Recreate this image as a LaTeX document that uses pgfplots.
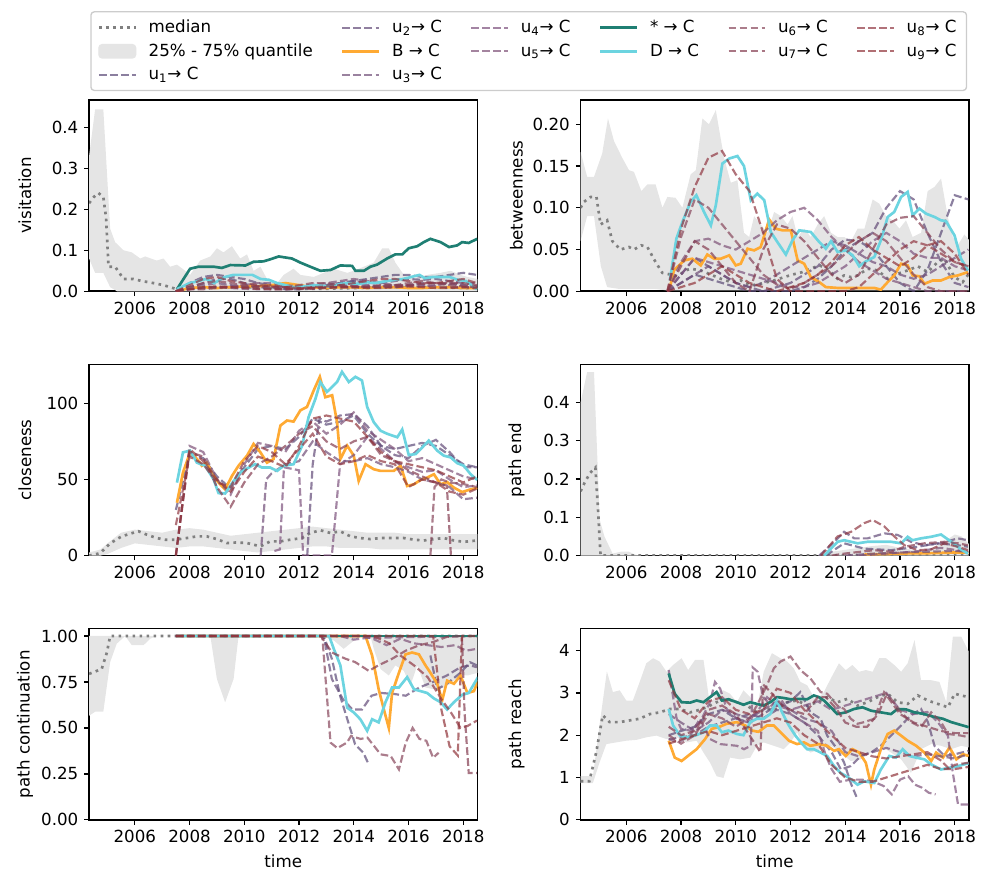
\documentclass[border=0pt]{standalone}
\usepackage{fontspec}
\setmainfont{DejaVu Sans}
\usepackage{pgfplots}
\usepackage{pgfplotstable}
\pgfplotsset{compat=1.18}
\usepgfplotslibrary{groupplots,fillbetween}

\definecolor{teal1}{HTML}{1F7F73}
\definecolor{cyan1}{HTML}{6CD4E0}
\definecolor{orng}{HTML}{FFAA33}
\definecolor{medg}{HTML}{808080}
\definecolor{qfill}{HTML}{E5E5E5}
\definecolor{legframe}{HTML}{CCCCCC}
\definecolor{ua}{RGB}{91,74,119}
\definecolor{ub}{RGB}{98,74,119}
\definecolor{uc}{RGB}{112,77,119}
\definecolor{ud}{RGB}{124,81,124}
\definecolor{ue}{RGB}{126,81,119}
\definecolor{uf}{RGB}{136,70,91}
\definecolor{ug}{RGB}{133,60,80}
\definecolor{uh}{RGB}{144,55,66}
\definecolor{ui}{RGB}{144,51,57}

\pgfplotsset{
  med/.style={draw=medg, line width=1.6pt, dash pattern=on 1.6pt off 2.6pt},
  uu/.style={draw=#1, line width=1.3pt, dash pattern=on 4.6pt off 2pt, draw opacity=0.7},
  bb/.style={draw=orng, line width=1.6pt},
  st/.style={draw=teal1, line width=1.6pt},
  dd/.style={draw=cyan1, line width=1.6pt},
}

% u series on a half-year grid
\pgfplotstableread{
t u1 u2 u3 u4 u5 u6 u7 u8 u9
2007.5 0 0 0 0 0 0 0 0 0
2008 .01 .02 .01 .005 .005 .01 .005 .015 .005
2008.5 .02 .035 .015 .01 .008 .02 .005 .03 .01
2009 .03 .04 .02 .01 .01 .025 .008 .035 .012
2009.5 .03 .035 .015 .008 .012 .02 .01 .025 .01
2010 .02 .03 .01 .006 .015 .015 .01 .02 .008
2010.5 .01 .02 .01 .005 .02 .012 .012 .015 .006
2011 .01 .015 .008 .005 .02 .01 .015 .012 .005
2011.5 .005 .01 .005 .005 .015 .01 .01 .01 .005
2012 .005 .01 .005 .008 .012 .015 .008 .008 .006
2012.5 .01 .012 .008 .01 .015 .02 .006 .01 .008
2013 .015 .015 .01 .01 .02 .02 .008 .012 .01
2013.5 .02 .02 .012 .01 .025 .015 .01 .015 .01
2014 .025 .025 .015 .012 .03 .012 .01 .02 .01
2014.5 .03 .02 .015 .01 .025 .01 .012 .025 .008
2015 .035 .02 .012 .01 .02 .012 .015 .03 .008
2015.5 .04 .025 .01 .012 .015 .015 .015 .03 .01
2016 .04 .03 .015 .015 .012 .02 .015 .025 .012
2016.5 .035 .028 .02 .015 .012 .025 .018 .02 .01
2017 .035 .03 .02 .012 .015 .02 .02 .02 .008
2017.5 .04 .025 .018 .01 .02 .015 .02 .025 .008
2018 .045 .02 .015 .01 .015 .012 .02 .03 .01
2018.5 .04 .02 .01 .01 .012 .01 .015 .02 .008
}\visit

\pgfplotstableread{
t u1 u2 u3 u4 u5 u6 u7 u8 u9
2007.5 0 0 0 0 0 0 0 0 0
2008 .01 .02 .01 .02 .035 .065 .03 .075 .005
2008.5 .02 .04 .02 .04 .06 .11 .06 .125 .01
2009 .015 .03 .03 .035 .063 .1 .05 .16 .02
2009.5 .01 .02 .02 .03 .055 .08 .03 .168 .03
2010 .005 .01 .01 .025 .05 .06 .01 .14 .02
2010.5 0 .005 .005 .02 .06 .04 0 .12 .01
2011 0 0 .01 .015 .07 .02 .05 .07 .005
2011.5 0 .005 .02 .01 .085 .008 .08 .015 0
2012 0 .01 .03 .005 .095 .003 .075 0 .005
2012.5 .005 .02 .04 .005 .1 .01 .06 0 .01
2013 .015 .03 .05 .01 .085 .02 .04 0 .02
2013.5 .03 .05 .06 .02 .065 .03 .02 0 .035
2014 .05 .062 .055 .03 .05 .045 .01 0 .055
2014.5 .06 .06 .045 .045 .035 .06 .02 .005 .065
2015 .05 .07 .035 .06 .025 .07 .05 .02 .05
2015.5 .03 .1 .03 .07 .015 .06 .08 .035 .04
2016 .01 .12 .02 .06 .01 .04 .088 .05 .03
2016.5 0 .11 .015 .045 .005 .02 .09 .06 .04
2017 .025 .07 .02 .04 0 .005 .07 .055 .055
2017.5 .07 .035 .03 .04 0 0 .05 .045 .06
2018 .115 .01 .04 .03 0 0 .035 .035 .045
2018.5 .11 .005 .05 .025 0 0 .03 .03 .02
}\betw

\begin{document}
\begin{tikzpicture}
\begin{groupplot}[
  group style={group size=2 by 3, horizontal sep=61.8pt, vertical sep=43.8pt},
  scale only axis, width=232.8pt, height=114.6pt,
  xmin=2004.33, xmax=2018.52, ymin=0,
  xtick={2006,2008,2010,2012,2014,2016,2018},
  x tick label style={/pgf/number format/1000 sep={}},
  /pgf/number format/assume math mode=true,
  tick align=outside, tick pos=left, major tick length=2.9pt,
  every tick/.style={black, line width=0.8pt},
  axis line style={line width=1pt},
  tick label style={font=\fontsize{10}{12}\selectfont},
  label style={font=\fontsize{10}{12}\selectfont},
  every axis y label/.style={at={(axis description cs:-0.165,0.5)}, rotate=90, anchor=center},
  unbounded coords=jump,
  legend image code/.code={\draw[#1] (0pt,0pt) -- (22pt,0pt);},
]

% ---------------- visitation
\nextgroupplot[ymax=0.4667, ytick={0,0.1,0.2,0.3,0.4},
  yticklabel style={/pgf/number format/.cd,fixed,fixed zerofill,precision=1},
  ylabel={visitation},
  legend columns=6, legend cell align=left,
  legend style={at={(axis description cs:0.003,1.047)}, anchor=south west,
    draw=legframe, rounded corners=2pt, line width=0.8pt,
    font=\fontsize{10}{12}\selectfont, inner xsep=4pt, inner ysep=3pt,
    row sep=1pt,
    /tikz/every odd column/.append style={column sep=5pt},
    /tikz/every even column/.append style={column sep=15pt}}]
\addlegendimage{med}
\addlegendimage{uu=ub}
\addlegendimage{uu=ud}
\addlegendimage{st}
\addlegendimage{uu=uf}
\addlegendimage{uu=uh}
\addlegendimage{legend image code/.code={\fill[qfill] (0pt,-4pt) rectangle (22pt,4pt);}}
\addlegendimage{bb}
\addlegendimage{uu=ue}
\addlegendimage{dd}
\addlegendimage{uu=ug}
\addlegendimage{uu=ui}
\addlegendimage{uu=ua}
\addlegendimage{uu=uc}
\addplot[name path=vu, draw=none] coordinates {(2004.33,0.33)(2004.55,0.444)(2004.85,0.444)(2005.1,0.153)(2005.28,0.12)(2005.59,0.10)(2005.89,0.095)(2006.2,0.08)(2006.38,0.085)(2006.8,0.075)(2007.05,0.08)(2007.29,0.06)(2007.54,0.065)(2007.84,0.05)(2008.02,0.04)(2008.39,0.075)(2008.76,0.085)(2009.0,0.105)(2009.24,0.095)(2009.55,0.11)(2009.85,0.08)(2010.1,0.09)(2010.34,0.05)(2010.59,0.06)(2010.83,0.03)(2011.2,0.02)(2011.44,0.04)(2011.8,0.055)(2012.05,0.04)(2012.54,0.035)(2012.9,0.045)(2013.27,0.055)(2013.76,0.045)(2014.0,0.05)(2014.37,0.06)(2014.73,0.07)(2015.04,0.105)(2015.28,0.105)(2015.52,0.07)(2015.83,0.04)(2016.2,0.03)(2016.68,0.04)(2017.17,0.045)(2017.54,0.05)(2017.9,0.04)(2018.15,0.035)(2018.54,0.03)};
\addplot[name path=vl, draw=none] coordinates {(2004.33,0.08)(2004.55,0.045)(2004.85,0.045)(2005.1,0.01)(2005.35,0)(2018.54,0)};
\addplot[qfill] fill between[of=vu and vl];
\addplot[med] coordinates {(2004.33,0.215)(2004.5,0.23)(2004.67,0.24)(2004.85,0.23)(2004.95,0.18)(2005.04,0.06)(2005.28,0.06)(2005.59,0.03)(2005.95,0.03)(2006.26,0.025)(2006.68,0.02)(2007.05,0.015)(2007.29,0.01)(2007.54,0.005)(2008,0.008)(2009,0.01)(2010,0.01)(2011,0.008)(2012,0.006)(2013,0.006)(2014,0.008)(2015,0.01)(2016,0.01)(2017,0.01)(2018,0.008)(2018.5,0.008)};
\addplot[uu=ua] table[x=t,y=u1] {\visit};
\addplot[uu=ub] table[x=t,y=u2] {\visit};
\addplot[bb] coordinates {(2007.54,0.0)(2008,0.008)(2008.5,0.01)(2009,0.008)(2009.5,0.01)(2010,0.012)(2010.5,0.012)(2011,0.015)(2011.5,0.02)(2012,0.015)(2012.5,0.01)(2013,0.008)(2013.5,0.01)(2014,0.01)(2014.5,0.008)(2015,0.01)(2015.5,0.01)(2016,0.008)(2016.5,0.008)(2017,0.01)(2017.5,0.01)(2018,0.008)(2018.5,0.008)};
\addplot[uu=uc] table[x=t,y=u3] {\visit};
\addplot[uu=ud] table[x=t,y=u4] {\visit};
\addplot[uu=ue] table[x=t,y=u5] {\visit};
\addplot[st] coordinates {(2007.54,0.005)(2008.02,0.055)(2008.33,0.06)(2008.88,0.06)(2009.18,0.057)(2009.49,0.064)(2010.04,0.063)(2010.34,0.072)(2010.7,0.073)(2010.95,0.078)(2011.26,0.085)(2011.74,0.08)(2012.05,0.07)(2012.41,0.06)(2012.78,0.05)(2013.15,0.052)(2013.51,0.063)(2013.94,0.062)(2014.06,0.05)(2014.37,0.05)(2014.61,0.06)(2014.85,0.065)(2015.22,0.08)(2015.52,0.09)(2015.77,0.09)(2016.01,0.105)(2016.32,0.11)(2016.56,0.12)(2016.8,0.128)(2017.17,0.12)(2017.48,0.108)(2017.78,0.112)(2017.96,0.12)(2018.2,0.118)(2018.51,0.128)};
\addplot[dd] coordinates {(2007.54,0.005)(2008.0,0.02)(2008.33,0.025)(2008.6,0.03)(2008.9,0.02)(2009.3,0.035)(2009.6,0.04)(2010.0,0.04)(2010.3,0.04)(2010.6,0.03)(2010.9,0.028)(2011.2,0.02)(2011.5,0.015)(2011.8,0.01)(2012.2,0.012)(2012.5,0.015)(2012.9,0.013)(2013.2,0.012)(2013.5,0.018)(2013.8,0.02)(2014.2,0.018)(2014.5,0.022)(2014.8,0.02)(2015.2,0.025)(2015.5,0.028)(2015.8,0.03)(2016.1,0.035)(2016.4,0.04)(2016.6,0.032)(2016.9,0.035)(2017.2,0.035)(2017.5,0.035)(2017.8,0.028)(2018.1,0.025)(2018.3,0.015)(2018.5,0.005)};
\addplot[uu=uf] table[x=t,y=u6] {\visit};
\addplot[uu=ug] table[x=t,y=u7] {\visit};
\addplot[uu=uh] table[x=t,y=u8] {\visit};
\addplot[uu=ui] table[x=t,y=u9] {\visit};
\legend{median, u\textsubscript{2}→ C, u\textsubscript{4}→ C, * → C, u\textsubscript{6}→ C, u\textsubscript{8}→ C,
  25\% - 75\% quantile, B → C, u\textsubscript{5}→ C, D → C, u\textsubscript{7}→ C, u\textsubscript{9}→ C,
  u\textsubscript{1}→ C, u\textsubscript{3}→ C}

% ---------------- betweenness
\nextgroupplot[ymax=0.229, ytick={0,0.05,0.1,0.15,0.2},
  yticklabel style={/pgf/number format/.cd,fixed,fixed zerofill,precision=2},
  ylabel={betweenness}]
\addplot[name path=bu, draw=none] coordinates {(2004.33,.167)(2004.57,.137)(2004.82,.137)(2005.12,.165)(2005.33,.207)(2005.55,.18)(2005.85,.16)(2006.1,.145)(2006.28,.143)(2006.55,.12)(2006.77,.128)(2007.07,.128)(2007.32,.10)(2007.5,.113)(2007.8,.112)(2008.05,.10)(2008.35,.14)(2008.54,.145)(2008.78,.207)(2009.02,.20)(2009.27,.217)(2009.57,.16)(2009.82,.13)(2010.06,.133)(2010.3,.07)(2010.49,.065)(2010.67,.09)(2010.91,.08)(2011.16,.07)(2011.4,.095)(2011.65,.09)(2011.89,.08)(2012.07,.09)(2012.26,.065)(2012.5,.075)(2012.74,.065)(2012.99,.08)(2013.23,.09)(2013.48,.07)(2013.72,.065)(2013.96,.065)(2014.21,.06)(2014.45,.075)(2014.7,.075)(2015.0,.11)(2015.24,.105)(2015.49,.09)(2015.73,.085)(2015.98,.075)(2016.22,.085)(2016.46,.065)(2016.77,.07)(2017.01,.12)(2017.26,.125)(2017.5,.135)(2017.74,.09)(2017.93,.065)(2018.11,.055)(2018.35,.068)(2018.56,.06)};
\addplot[name path=bl, draw=none] coordinates {(2004.33,.06)(2004.57,.09)(2004.82,.09)(2005.07,.03)(2005.3,.005)(2005.7,.003)(2007,.003)(2007.5,.001)(2018.56,.001)};
\addplot[qfill] fill between[of=bu and bl];
\addplot[med] coordinates {(2004.33,.1)(2004.45,.107)(2004.7,.113)(2004.91,.113)(2005.06,.08)(2005.3,.085)(2005.49,.06)(2005.79,.05)(2006.1,.053)(2006.28,.05)(2006.55,.055)(2006.77,.053)(2007.07,.035)(2007.32,.022)(2007.62,.02)(2007.87,.018)(2008.17,.025)(2008.35,.027)(2008.72,.025)(2009.09,.02)(2009.45,.015)(2009.82,.011)(2010.18,.013)(2010.55,.007)(2010.91,.009)(2011.4,.013)(2011.77,.017)(2012.07,.02)(2012.44,.023)(2012.74,.027)(2013.05,.031)(2013.35,.027)(2013.72,.015)(2013.96,.019)(2014.21,.017)(2014.45,.019)(2014.82,.027)(2015.18,.025)(2015.55,.015)(2015.91,.021)(2016.28,.025)(2016.65,.03)(2017.01,.023)(2017.38,.035)(2017.62,.039)(2017.99,.017)(2018.29,.011)(2018.56,.023)};
\addplot[uu=ua] table[x=t,y=u1] {\betw};
\addplot[uu=ub] table[x=t,y=u2] {\betw};
\addplot[bb] coordinates {(2007.59,.004)(2007.74,.025)(2008.11,.037)(2008.41,.039)(2008.72,.031)(2008.96,.044)(2009.21,.039)(2009.45,.039)(2009.76,.043)(2010.0,.031)(2010.18,.033)(2010.43,.051)(2010.67,.049)(2010.91,.053)(2011.22,.086)(2011.46,.075)(2011.71,.073)(2012.01,.073)(2012.26,.037)(2012.5,.033)(2012.74,.017)(2013.05,.011)(2013.29,.005)(2013.72,.004)(2014.21,.004)(2014.7,.004)(2015.06,.004)(2015.3,.002)(2015.55,.011)(2015.79,.019)(2016.04,.033)(2016.28,.031)(2016.46,.019)(2016.71,.018)(2016.89,.009)(2017.2,.013)(2017.5,.013)(2017.8,.017)(2018.11,.019)(2018.48,.023)};
\addplot[uu=uc] table[x=t,y=u3] {\betw};
\addplot[uu=ud] table[x=t,y=u4] {\betw};
\addplot[uu=ue] table[x=t,y=u5] {\betw};
\addplot[dd] coordinates {(2007.59,.013)(2007.83,.063)(2008.05,.083)(2008.35,.107)(2008.56,.115)(2008.84,.095)(2009.09,.079)(2009.27,.103)(2009.51,.153)(2009.76,.159)(2010.06,.162)(2010.3,.15)(2010.55,.109)(2010.79,.117)(2011.04,.109)(2011.28,.071)(2011.52,.059)(2011.83,.044)(2012.07,.061)(2012.32,.073)(2012.74,.071)(2013.05,.059)(2013.29,.051)(2013.48,.06)(2013.72,.047)(2014.02,.049)(2014.27,.043)(2014.51,.03)(2014.76,.036)(2015.06,.041)(2015.30,.061)(2015.55,.089)(2015.79,.095)(2016.04,.113)(2016.28,.119)(2016.46,.091)(2016.71,.099)(2016.95,.093)(2017.26,.089)(2017.5,.085)(2017.68,.084)(2017.99,.067)(2018.23,.039)(2018.48,.025)};
\addplot[uu=uf] table[x=t,y=u6] {\betw};
\addplot[uu=ug] table[x=t,y=u7] {\betw};
\addplot[uu=uh] table[x=t,y=u8] {\betw};
\addplot[uu=ui] table[x=t,y=u9] {\betw};

% ---------------- closeness
\nextgroupplot[ymax=125.6, ytick={0,50,100}, ylabel={closeness}]
\addplot[name path=cu, draw=none] coordinates {(2004.33,2)(2004.75,4)(2005.0,8)(2005.5,15)(2006,17)(2006.5,16)(2007,15)(2007.5,17)(2008,18)(2008.5,17)(2009,15)(2009.5,13)(2010,14)(2010.5,15)(2011,16)(2011.5,17)(2012,18)(2012.5,19)(2013,18)(2013.5,17)(2014,16)(2014.5,15)(2015,15)(2015.5,15)(2016,14)(2016.5,14)(2017,14)(2017.5,14)(2018,14)(2018.52,14)};
\addplot[name path=cl, draw=none] coordinates {(2004.33,0)(2004.75,0)(2005,1)(2005.5,5)(2006,8)(2006.5,7)(2007,6)(2007.5,5)(2008,6)(2008.5,6)(2009,5)(2009.5,4)(2010,3)(2010.5,2)(2011,3)(2011.5,4)(2012,5)(2012.5,6)(2013,6)(2013.5,5)(2014,5)(2014.5,5)(2015,4)(2015.5,4)(2016,4)(2016.5,4)(2017,4)(2017.5,4)(2018,4)(2018.52,4)};
\addplot[qfill] fill between[of=cu and cl];
\addplot[med] coordinates {(2004.33,0)(2004.73,1.5)(2005.1,8)(2005.52,12.6)(2005.77,14)(2006.13,16)(2006.44,13.7)(2006.8,11.5)(2007.11,10.4)(2007.48,10.4)(2007.9,11.5)(2008.27,12.6)(2008.63,12.6)(2009.0,10.8)(2009.37,8.2)(2009.73,8.6)(2010.1,8.2)(2010.59,6)(2010.95,9.3)(2011.32,9.3)(2011.68,10.4)(2012.11,11.5)(2012.41,14.8)(2012.78,16.6)(2013.15,14.8)(2013.51,15.9)(2013.88,12.6)(2014.24,11.5)(2014.61,10.8)(2014.98,11.5)(2015.46,11.5)(2015.83,11.5)(2016.2,10.4)(2016.56,9.9)(2016.93,10.8)(2017.29,11.5)(2017.66,9.9)(2018.02,9)(2018.51,9.9)};
\addplot[uu=ua] coordinates {(2007.5,30)(2008,66)(2008.5,64)(2009,52)(2009.5,44)(2010,58)(2010.5,70)(2011,72)(2011.5,70)(2012,78)(2012.5,90)(2013,86)(2013.5,88)(2014,92)(2014.5,80)(2015,72)(2015.5,70)(2016,72)(2016.5,74)(2017,72)(2017.5,66)(2018,60)(2018.5,58)};
\addplot[uu=ub] coordinates {(2012.3,0)(2012.5,60)(2012.75,90)(2013,88)(2013.5,92)(2014,93)(2014.5,85)(2015,72)(2015.5,66)(2016,64)(2016.5,72)(2017,76)(2017.5,68)(2018,58)(2018.5,58)};
\addplot[bb] coordinates {(2007.54,34.7)(2007.76,54.5)(2008.02,67.8)(2008.27,63.4)(2008.45,59)(2008.63,61)(2008.88,52.3)(2009.06,47.9)(2009.3,43.5)(2009.55,52.3)(2009.79,59)(2010.1,65.6)(2010.34,73.3)(2010.59,67.8)(2010.83,61)(2011.07,63.4)(2011.32,85.4)(2011.56,88.7)(2011.8,88)(2012.05,95.4)(2012.29,97.6)(2012.54,108.6)(2012.76,117.4)(2012.96,104)(2013.21,105.3)(2013.39,87.6)(2013.51,63.4)(2013.76,72.2)(2014.0,65.6)(2014.18,49)(2014.43,60)(2014.73,56.7)(2014.98,55.6)(2015.22,55.6)(2015.46,55.6)(2015.71,59)(2015.95,45.7)(2016.2,46.8)(2016.44,49.7)(2016.68,51.2)(2016.93,53.4)(2017.17,46.8)(2017.41,48.3)(2017.66,44.6)(2017.96,41.7)(2018.27,43.5)(2018.51,44.4)};
\addplot[uu=uc] coordinates {(2010.6,0)(2010.8,50)(2011,54)(2011.5,60)(2012,62)(2012.5,75)(2013,68)(2013.5,62)(2014,62)(2014.5,64)(2015,60)(2015.5,58)(2016,55)(2016.5,50)(2017,48)(2017.5,45)(2018,37)(2018.5,38)};
\addplot[uu=ud] coordinates {(2011.1,3)(2011.3,4)(2011.45,58)(2012,56)(2012.15,0)(2013.2,0)(2013.5,60)(2014,66)(2014.5,78)(2015,70)(2015.5,62)(2016,58)(2016.5,55)(2017,56)(2017.5,50)(2018,45)(2018.5,46)};
\addplot[uu=ue] coordinates {(2007.5,0)(2008,72)(2008.5,68)(2009,50)(2009.5,40)(2010,60)(2010.5,74)(2011,72)(2011.5,68)(2012,82)(2012.5,88)(2013,80)(2013.5,86)(2014,94)(2014.5,82)(2015,76)(2015.5,70)(2016,62)(2016.5,64)(2017,60)(2017.5,56)(2018,52)(2018.5,50)};
\addplot[dd] coordinates {(2007.54,47.9)(2007.76,67.8)(2008.02,68.9)(2008.27,61)(2008.57,59)(2008.88,50)(2009.06,41)(2009.3,40.8)(2009.61,49)(2009.85,54.5)(2010.16,57.8)(2010.4,60)(2010.65,57.8)(2010.95,57.8)(2011.2,55.6)(2011.44,59)(2011.8,60)(2012.11,72)(2012.35,91)(2012.6,103)(2012.78,114)(2013.02,107.5)(2013.39,114)(2013.57,120.7)(2013.82,114)(2014.06,117.4)(2014.3,115)(2014.49,97.6)(2014.73,87.6)(2014.98,82)(2015.22,80)(2015.59,77.7)(2015.77,82.8)(2016.01,66)(2016.26,66.7)(2016.5,71)(2016.74,75.5)(2017.05,68.9)(2017.29,65.6)(2017.54,64.5)(2017.78,60.7)(2018.02,59)(2018.27,53.4)(2018.51,49.7)};
\addplot[uu=uf] coordinates {(2016.8,0)(2016.95,45)(2017.2,50)(2017.5,48)(2018,47)(2018.5,45)};
\addplot[uu=ug] coordinates {(2007.5,0)(2008,68)(2008.5,65)(2009,45)(2009.5,32)(2010,48)(2010.5,60)(2011,65)(2011.5,72)(2012,80)(2012.5,85)(2013,75)(2013.5,70)(2014,75)(2014.5,78)(2015,66)(2015.5,62)(2016,56)(2016.5,52)(2017,48)(2017.4,46)(2017.55,0)(2017.65,0)};
\addplot[uu=uh] coordinates {(2007.5,20)(2008,65)(2008.5,60)(2009,48)(2009.5,45)(2010,62)(2010.5,72)(2011,68)(2011.5,60)(2012,70)(2012.5,80)(2013,65)(2013.5,60)(2014,62)(2014.5,66)(2015,62)(2015.5,60)(2016,45)(2016.5,50)(2017,48)(2017.5,42)(2018,40)(2018.5,44)};
\addplot[uu=ui] coordinates {(2007.5,0)(2008,70)(2008.5,62)(2009,50)(2009.5,42)(2010,55)(2010.5,65)(2011,62)(2011.5,58)(2012,72)(2012.5,90)(2013,92)(2013.5,90)(2014,88)(2014.5,78)(2015,68)(2015.5,62)(2016,60)(2016.5,58)(2017,56)(2017.5,52)(2018,48)(2018.5,52)};

% ---------------- path end
\nextgroupplot[ymax=0.5, ytick={0,0.1,0.2,0.3,0.4},
  yticklabel style={/pgf/number format/.cd,fixed,fixed zerofill,precision=1},
  ylabel={path end}]
\addplot[name path=eu, draw=none] coordinates {(2004.33,0.40)(2004.57,0.48)(2004.82,0.48)(2005.03,0.093)(2005.2,0.05)(2005.5,0.005)(2005.8,0.01)(2006.1,0.01)(2006.3,0.003)(2006.5,0)(2013.0,0)(2013.5,0.01)(2014,0.015)(2014.5,0.02)(2015,0.025)(2015.5,0.028)(2016,0.02)(2016.5,0.015)(2017,0.015)(2017.5,0.03)(2018,0.055)(2018.25,0.05)(2018.52,0.03)};
\addplot[name path=el, draw=none] coordinates {(2004.33,0)(2018.52,0)};
\addplot[qfill] fill between[of=eu and el];
\addplot[med] coordinates {(2004.33,.168)(2004.5,.194)(2004.68,.216)(2004.87,.23)(2004.96,.13)(2005.06,0)(2018.52,0)};
\addplot[uu=ua] coordinates {(2013.3,0)(2013.6,.015)(2013.96,.032)(2014.7,.018)(2015.67,.014)(2016.65,.023)(2017.38,.032)(2018.11,.027)(2018.48,.023)};
\addplot[uu=ub] coordinates {(2013.05,0)(2013.6,.036)(2013.96,.062)(2014.33,.045)(2014.82,.045)(2015.43,.058)(2015.91,.054)(2016.4,.036)(2016.89,.027)(2017.5,.032)(2018.11,.045)(2018.48,.04)};
\addplot[bb] coordinates {(2014.7,0.003)(2015.5,0.004)(2016,0.005)(2016.5,0.006)(2017,0.006)(2017.5,0.007)(2018,0.008)(2018.5,0.008)};
\addplot[uu=uc] coordinates {(2014,0)(2015,.005)(2016,.008)(2017,.01)(2018,.012)(2018.5,.01)};
\addplot[uu=ue] coordinates {(2014.5,0)(2015.5,.005)(2016.5,.01)(2017.5,.02)(2018.5,.01)};
\addplot[dd] coordinates {(2013.23,0)(2013.72,.036)(2013.96,.04)(2014.21,.036)(2014.45,.032)(2014.82,.036)(2015.18,.036)(2015.67,.036)(2016.04,.032)(2016.28,.049)(2016.46,.04)(2016.77,.045)(2017.13,.049)(2017.5,.055)(2017.87,.036)(2018.23,.016)(2018.48,.005)};
\addplot[uu=ug] coordinates {(2013.5,0)(2013.96,.005)(2015.06,.014)(2015.67,.01)(2016.16,.023)(2016.89,.032)(2017.62,.036)(2018.11,.032)(2018.48,.027)};
\addplot[uu=uh] coordinates {(2013.11,0)(2013.72,.05)(2014.21,.062)(2014.7,.085)(2015.0,.093)(2015.43,.076)(2015.79,.05)(2016.16,.027)(2016.65,.014)(2017.13,.016)(2017.62,.032)(2018.11,.023)(2018.48,.014)};

% ---------------- path continuation
\nextgroupplot[ymax=1.04, ytick={0,0.25,0.5,0.75,1},
  yticklabel style={/pgf/number format/.cd,fixed,fixed zerofill,precision=2},
  ylabel={path continuation}, xlabel={time}]
\addplot[name path=pu, draw=none] coordinates {(2004.33,1)(2018.54,1)};
\addplot[name path=pl, draw=none] coordinates {(2004.33,.566)(2004.55,.588)(2004.85,.588)(2005.1,.858)(2005.34,.958)(2005.65,1.0)(2005.89,.95)(2006.32,.95)(2006.56,.985)(2006.8,1)(2008.76,1)(2009.0,.766)(2009.3,.639)(2009.61,.766)(2009.79,1)(2012.84,1)(2013.27,.976)(2013.63,.93)(2013.94,.967)(2014.24,1)(2014.61,1)(2014.73,.93)(2014.98,.82)(2015.28,.785)(2015.52,.84)(2015.83,.81)(2016.07,.73)(2016.32,.84)(2016.62,.72)(2016.93,.71)(2017.29,.72)(2017.54,.74)(2017.9,.79)(2018.15,.785)(2018.54,.80)};
\addplot[qfill] fill between[of=pu and pl];
\addplot[med] coordinates {(2004.33,.794)(2004.61,.81)(2004.79,.82)(2004.98,.91)(2005.1,1.0)(2018.54,1.0)};
\addplot[uu=ua] coordinates {(2007.5,1)(2012.9,1)(2013.2,0.876)(2013.5,0.675)(2013.8,0.53)(2014.05,0.41)(2014.35,0.365)(2014.55,0.30)(2014.6,nan)(2016.8,0.894)(2017.05,0.71)(2017.4,0.74)(2017.9,0.80)(2018.25,0.857)(2018.5,0.84)};
\addplot[uu=ub] coordinates {(2007.5,1)(2012.9,1)(2013.2,0.766)(2013.6,0.657)(2013.95,0.60)(2014.3,0.60)(2014.65,0.675)(2015,0.69)(2015.5,0.684)(2015.9,0.675)(2016.4,0.72)(2016.9,0.75)(2017.4,0.785)(2017.9,0.83)(2018.25,0.84)(2018.5,0.83)};
\addplot[bb] coordinates {(2007.54,1)(2014.43,1)(2014.67,.894)(2014.91,.71)(2015.1,.60)(2015.28,.50)(2015.4,.69)(2015.65,.80)(2015.89,.90)(2016.13,.91)(2016.38,.90)(2016.62,.84)(2016.8,.80)(2017.05,.74)(2017.23,.65)(2017.41,.757)(2017.66,.74)(2017.9,.785)(2018.15,.69)(2018.39,.70)(2018.54,.757)};
\addplot[uu=uc] coordinates {(2007.5,1)(2018.5,1)};
\addplot[uu=ud] coordinates {(2007.5,1)(2013.5,1)(2014,0.98)(2014.5,0.99)(2018.5,1)};
\addplot[uu=ue] coordinates {(2007.5,1)(2014.3,1)(2014.7,0.985)(2015.2,0.95)(2015.7,0.985)(2016.2,0.96)(2016.7,0.95)(2017.2,0.94)(2017.7,0.95)(2018.1,0.92)(2018.5,0.93)};
\addplot[st] coordinates {(2007.54,1)(2018.54,1)};
\addplot[dd] coordinates {(2007.54,1)(2013.1,1)(2013.27,.93)(2013.51,.84)(2013.76,.61)(2014.0,.584)(2014.24,.547)(2014.49,.484)(2014.67,.547)(2014.91,.53)(2015.16,.64)(2015.4,.72)(2015.65,.72)(2015.95,.776)(2016.2,.71)(2016.44,.70)(2016.68,.69)(2016.93,.66)(2017.17,.64)(2017.41,.60)(2017.66,.64)(2017.96,.68)(2018.2,.69)(2018.54,.776)};
\addplot[uu=uf] coordinates {(2007.5,1)(2012.85,1)(2013.15,0.42)(2013.4,0.39)(2013.75,0.42)(2013.9,0.456)(2014.25,0.44)(2014.5,0.447)(2014.75,0.40)(2014.98,0.356)(2015.35,0.347)(2015.65,0.274)(2015.9,0.42)(2016.15,0.50)(2016.4,0.44)(2016.65,0.43)(2016.9,0.337)(2017.1,0.365)};
\addplot[uu=ug] coordinates {(2007.5,1)(2012.8,1)(2013.2,0.91)(2013.7,0.876)(2014.05,0.858)(2014.55,0.81)(2014.9,0.84)(2015.4,0.876)(2015.9,0.92)(2016.4,0.95)(2016.9,0.967)(2017.4,0.995)(2017.95,1.0)(2018.05,0.58)(2018.2,0.255)(2018.5,0.255)};
\addplot[uu=uh] coordinates {(2007.5,1)(2014.7,1)(2015.3,0.96)(2015.7,0.894)(2016.2,0.84)(2016.7,0.776)(2017.2,0.657)(2017.55,0.584)(2017.9,0.50)(2018.15,0.51)(2018.5,0.54)};
\addplot[uu=ui] coordinates {(2007.5,1)(2016.9,1)(2017.2,0.6)(2017.5,0.4)(2017.8,0.35)(2017.95,1.0)(2018.5,1.0)};

% ---------------- path reach
\nextgroupplot[ymax=4.52, ytick={0,1,2,3,4}, ylabel={path reach}, xlabel={time}]
\addplot[name path=ru, draw=none] coordinates {(2004.33,1.03)(2004.78,1.03)(2005.02,2.23)(2005.29,3.51)(2005.51,3.02)(2005.76,3.06)(2006.0,2.82)(2006.24,2.82)(2006.49,3.26)(2006.73,3.70)(2006.98,3.82)(2007.22,3.74)(2007.47,3.5)(2007.71,3.66)(2008.02,3.82)(2008.26,3.54)(2008.51,3.78)(2008.82,3.78)(2009.06,2.70)(2009.3,3.02)(2009.55,3.06)(2009.79,2.98)(2010.04,2.78)(2010.28,3.06)(2010.53,2.9)(2010.77,2.62)(2011.02,3.5)(2011.32,3.94)(2011.63,3.82)(2011.88,3.74)(2012.12,3.58)(2012.36,3.26)(2012.61,3.18)(2012.92,2.82)(2013.22,3.02)(2013.47,3.34)(2013.77,3.70)(2014.02,3.54)(2014.26,3.66)(2014.51,3.5)(2014.75,3.54)(2015.0,3.5)(2015.24,3.82)(2015.49,3.82)(2015.79,3.66)(2016.04,3.5)(2016.28,3.70)(2016.53,4.25)(2016.77,3.30)(2017.14,3.3)(2017.44,3.26)(2017.69,2.78)(2017.93,4.33)(2018.24,4.33)(2018.51,3.98)};
\addplot[name path=rl, draw=none] coordinates {(2004.33,.87)(2004.78,.87)(2005.02,1.35)(2005.27,1.79)(2005.63,1.83)(2006.0,1.87)(2006.37,1.89)(2006.73,1.95)(2007.1,1.99)(2007.47,1.91)(2007.84,1.95)(2008.2,1.83)(2008.57,1.87)(2008.82,1.59)(2009.06,1.35)(2009.3,1.03)(2009.55,.99)(2009.79,1.47)(2010.16,1.43)(2010.53,1.47)(2010.77,1.75)(2011.02,1.83)(2011.39,1.75)(2011.75,1.67)(2012.0,1.83)(2012.24,2.07)(2012.49,1.71)(2012.73,1.59)(2013.1,1.67)(2013.47,1.75)(2013.83,1.59)(2014.2,1.39)(2014.57,1.43)(2014.94,1.59)(2015.3,1.75)(2015.67,1.59)(2016.04,1.43)(2016.4,1.11)(2016.77,1.67)(2017.14,1.79)(2017.5,1.75)(2017.87,1.67)(2018.24,1.75)(2018.51,1.71)};
\addplot[qfill] fill between[of=ru and rl];
\addplot[med] coordinates {(2004.33,.91)(2004.65,.91)(2004.9,1.59)(2005.14,2.47)(2005.39,2.31)(2005.76,2.31)(2006.12,2.35)(2006.49,2.39)(2006.86,2.5)(2007.22,2.54)(2007.59,2.62)(2007.96,2.62)(2008.33,2.54)(2008.57,2.58)(2008.94,2.66)(2009.3,2.78)(2009.67,2.86)(2010.04,2.78)(2010.41,2.70)(2010.77,2.54)(2011.14,2.62)(2011.51,2.62)(2011.88,2.78)(2012.24,2.82)(2012.61,2.70)(2012.98,2.78)(2013.34,2.9)(2013.71,2.78)(2014.08,2.86)(2014.45,2.70)(2014.81,2.78)(2015.18,2.9)(2015.55,2.98)(2015.91,2.78)(2016.28,2.74)(2016.65,2.94)(2017.02,2.82)(2017.38,2.74)(2017.75,2.66)(2018.0,2.98)(2018.24,2.94)(2018.51,2.9)};
\addplot[uu=ua] coordinates {(2007.55,2.0)(2008,2.1)(2008.5,2.2)(2009,2.5)(2009.5,2.6)(2010,2.4)(2010.5,2.3)(2011,2.5)(2011.5,2.7)(2012,2.8)(2012.36,3.02)(2012.73,2.54)(2013.1,2.39)(2013.34,1.99)(2013.71,1.67)(2013.96,1.35)(2014.2,0.87)(2014.45,0.48)};
\addplot[uu=ub] coordinates {(2007.55,1.9)(2008,1.95)(2008.5,2.0)(2009,2.2)(2009.5,2.3)(2010,2.4)(2010.5,2.5)(2011,2.4)(2011.5,2.6)(2012,2.5)(2012.5,2.3)(2013,2.0)(2013.5,1.6)(2013.84,1.19)(2014.2,1.27)(2014.57,1.51)(2014.94,1.59)(2015.3,1.75)(2015.67,1.99)(2016.04,2.23)(2016.4,2.47)(2016.77,2.62)(2017.02,2.31)(2017.26,1.75)(2017.63,1.51)(2018,1.55)(2018.51,1.63)};
\addplot[bb] coordinates {(2007.55,1.87)(2007.77,1.47)(2008.02,1.39)(2008.33,1.55)(2008.57,1.67)(2008.88,1.91)(2009.12,2.15)(2009.37,2.19)(2009.67,2.27)(2010.04,2.31)(2010.35,2.23)(2010.59,2.11)(2010.83,2.08)(2011.14,2.23)(2011.39,2.23)(2011.63,2.07)(2011.94,1.87)(2012.24,1.79)(2012.49,1.83)(2012.73,1.75)(2013.04,1.79)(2013.34,1.75)(2013.59,1.63)(2013.77,1.67)(2014.02,1.51)(2014.26,1.67)(2014.51,1.59)(2014.75,1.35)(2014.94,.83)(2015.06,1.19)(2015.3,1.67)(2015.55,2.03)(2015.79,2.11)(2016.04,1.99)(2016.28,1.87)(2016.59,1.75)(2016.89,1.59)(2017.14,1.39)(2017.32,1.59)(2017.57,1.47)(2017.81,1.71)(2018.06,1.43)(2018.3,1.55)(2018.51,1.51)};
\addplot[uu=uc] coordinates {(2007.55,2.5)(2008,2.3)(2008.5,2.1)(2009,2.3)(2009.5,2.6)(2010,2.5)(2010.5,2.4)(2011,2.6)(2011.5,2.8)(2012,2.6)(2012.5,2.4)(2013,2.3)(2013.5,2.1)(2014,1.6)(2014.5,1.5)(2015,1.6)(2015.5,1.7)(2016,1.6)(2016.5,1.5)(2017,1.55)(2017.5,1.5)(2018,1.45)(2018.5,1.55)};
\addplot[uu=ud] coordinates {(2007.55,3.54)(2007.84,2.39)(2008.0,2.15)(2008.33,2.11)(2008.69,2.31)(2009.06,2.78)(2009.24,3.26)(2009.43,3.1)(2009.67,2.62)(2010.04,2.39)(2010.41,2.31)(2010.77,2.54)(2011.14,2.9)(2011.5,2.7)(2012,2.6)(2012.5,2.7)(2013,2.8)(2013.5,2.6)(2014,2.7)(2014.5,2.8)(2015,2.9)(2015.5,3.0)(2016,2.6)(2016.5,2.5)(2017,2.55)(2017.38,2.31)(2017.75,1.99)(2017.93,1.11)(2018.12,0.36)(2018.51,0.36)};
\addplot[uu=ue] coordinates {(2007.55,1.91)(2007.9,1.83)(2008.33,1.99)(2008.69,2.39)(2009.06,1.91)(2009.43,1.79)(2010.04,1.75)(2010.3,1.67)(2010.55,1.75)(2010.62,3.6)(2010.8,3.5)(2011.0,2.9)(2011.3,2.7)(2011.7,2.8)(2012,2.5)(2012.5,2.3)(2013,2.1)(2013.3,1.5)(2013.5,1.2)(2013.8,0.9)(2014.2,0.95)(2014.6,0.95)(2015,0.91)(2015.4,0.8)(2015.7,0.6)(2016,0.95)(2016.3,1.03)(2016.55,0.83)(2016.8,0.76)(2017.05,0.64)(2017.3,0.6)};
\addplot[st] coordinates {(2007.55,3.46)(2007.77,2.98)(2008.02,2.78)(2008.33,2.77)(2008.57,2.82)(2008.82,2.78)(2009.06,2.9)(2009.3,3.02)(2009.49,2.82)(2009.73,2.85)(2010.04,2.78)(2010.28,2.72)(2010.53,2.78)(2010.77,2.74)(2011.02,2.70)(2011.26,2.78)(2011.51,2.9)(2011.75,2.88)(2012.0,2.85)(2012.24,2.86)(2012.61,2.85)(2012.85,2.94)(2013.04,2.9)(2013.22,2.82)(2013.47,2.66)(2013.71,2.5)(2014.02,2.54)(2014.32,2.62)(2014.63,2.66)(2014.94,2.58)(2015.3,2.54)(2015.67,2.5)(2015.91,2.62)(2016.22,2.61)(2016.53,2.54)(2016.89,2.5)(2017.26,2.43)(2017.56,2.39)(2017.87,2.31)(2018.24,2.24)(2018.51,2.19)};
\addplot[dd] coordinates {(2007.55,2.62)(2007.71,2.23)(2007.96,1.99)(2008.2,1.95)(2008.51,1.99)(2008.82,2.07)(2009.06,2.23)(2009.3,2.23)(2009.49,2.07)(2009.73,2.11)(2010.04,2.03)(2010.28,2.0)(2010.53,2.31)(2010.77,2.39)(2011.02,2.39)(2011.26,2.5)(2011.51,2.82)(2011.69,2.54)(2011.94,2.23)(2012.18,1.99)(2012.43,1.79)(2012.61,1.67)(2012.85,1.67)(2013.1,1.59)(2013.34,1.51)(2013.59,1.27)(2013.83,1.11)(2014.14,.99)(2014.45,.83)(2014.69,.91)(2015.06,.87)(2015.3,1.19)(2015.61,1.51)(2015.85,1.47)(2016.1,1.67)(2016.34,1.51)(2016.59,1.47)(2016.89,1.43)(2017.14,1.31)(2017.5,1.19)(2017.81,1.23)(2018.12,1.27)(2018.51,1.34)};
\addplot[uu=uf] coordinates {(2007.55,2.0)(2008,1.8)(2008.5,2.0)(2009,2.5)(2009.5,2.4)(2010,2.2)(2010.5,2.4)(2010.77,2.7)(2011.14,3.18)(2011.39,3.58)(2011.63,3.74)(2012,3.86)(2012.36,3.54)(2012.73,3.34)(2013.1,3.02)(2013.34,2.98)(2013.71,2.70)(2013.96,2.62)(2014.2,2.39)(2014.45,2.27)(2014.69,2.31)(2015.06,2.39)(2015.42,3.02)(2015.67,2.86)(2016.04,2.54)(2016.4,2.31)(2016.77,2.19)(2017.14,2.54)(2017.5,2.31)(2017.75,2.03)(2018.24,1.99)(2018.51,1.95)};
\addplot[uu=ug] coordinates {(2007.55,2.2)(2008,2.0)(2008.5,2.1)(2009,2.6)(2009.5,2.7)(2010,2.5)(2010.5,2.0)(2010.9,1.6)(2011.0,3.2)(2011.3,3.0)(2011.7,2.7)(2012,2.6)(2012.5,2.5)(2013,2.9)(2013.3,2.9)(2013.7,2.6)(2014,2.3)(2014.4,2.2)(2014.8,2.2)(2015.2,2.5)(2015.5,2.95)(2016,2.5)(2016.5,2.3)(2017,2.2)(2017.5,2.1)(2018,2.05)(2018.5,2.05)};
\addplot[uu=uh] coordinates {(2007.55,3.3)(2008,2.6)(2008.5,2.4)(2009,2.8)(2009.5,2.9)(2010,2.6)(2010.5,2.5)(2011,2.6)(2011.5,3.1)(2012,3.0)(2012.5,2.6)(2013,2.3)(2013.5,2.0)(2014,1.7)(2014.5,1.6)(2015,1.5)(2015.5,1.45)(2016,1.5)(2016.5,1.55)(2017,1.6)(2017.5,1.4)(2017.8,1.2)(2018,1.3)(2018.5,1.35)};
\addplot[uu=ui] coordinates {(2007.55,1.8)(2008,1.9)(2008.5,2.0)(2009,2.1)(2009.5,2.0)(2010,2.1)(2010.5,2.2)(2011,2.3)(2011.5,2.4)(2012,2.3)(2012.5,2.0)(2013,1.8)(2013.5,1.3)(2014,1.0)(2014.5,0.9)(2015,0.9)(2015.5,1.0)(2016,1.1)(2016.5,1.2)(2017,1.3)(2017.5,1.2)(2018,1.2)(2018.5,1.25)};
\end{groupplot}
\path (group c1r1.north west) ++(-53.4pt,60pt);
\path (group c2r3.south east) ++(12pt,-31.8pt);
\end{tikzpicture}
\end{document}
